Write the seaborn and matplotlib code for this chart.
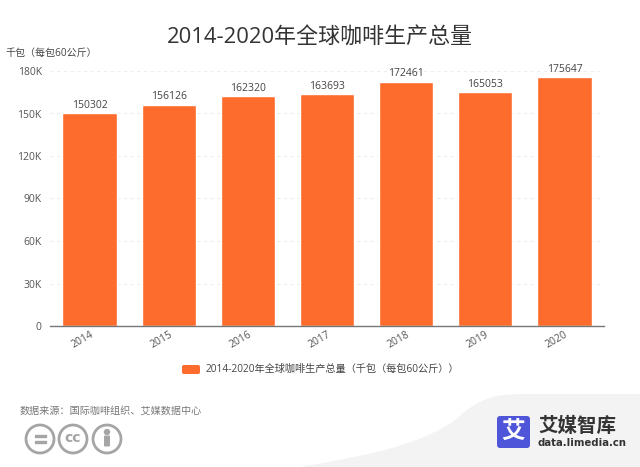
import matplotlib
matplotlib.use("Agg")
import matplotlib.pyplot as plt
import seaborn as sns
import pandas as pd
from matplotlib.patches import Circle, FancyBboxPatch, PathPatch, Rectangle
from matplotlib.path import Path

YEARS = ["2014", "2015", "2016", "2017", "2018", "2019", "2020"]
VALUES = [150302, 156126, 162320, 163693, 172461, 165053, 175647]
Y_TICKS = [0, 30000, 60000, 90000, 120000, 150000, 180000]
Y_LABELS = ["0", "30K", "60K", "90K", "120K", "150K", "180K"]
TITLE = "2014-2020年全球咖啡生产总量"
UNIT = "千包（每包60公斤）"
LEGEND = "2014-2020年全球咖啡生产总量（千包（每包60公斤））"
SOURCE = "数据来源：国际咖啡组织、艾媒数据中心"

ORANGE = "#fd6c2d"
W, H = 640, 467

sns.set_theme(style="white")
plt.rcParams["font.family"] = ["Open Sans", "Noto Sans CJK SC", "DejaVu Sans"]

df = pd.DataFrame({"year": YEARS, "value": VALUES})

fig = plt.figure(figsize=(W / 100, H / 100), dpi=100, facecolor="white")

# --- background layer in pixel coordinates ---
bg = fig.add_axes([0, 0, 1, 1], zorder=0)
bg.set_xlim(0, W)
bg.set_ylim(H, 0)
bg.axis("off")

swoosh = Path(
    [(300, 467), (370, 455), (420, 445), (455, 420), (475, 402), (490, 394), (520, 394), (640, 394), (640, 467), (300, 467)],
    [Path.MOVETO, Path.CURVE4, Path.CURVE4, Path.CURVE4, Path.CURVE4, Path.CURVE4, Path.CURVE4, Path.LINETO, Path.LINETO, Path.CLOSEPOLY],
)
bg.add_patch(PathPatch(swoosh, facecolor="#f3f3f4", edgecolor="none"))

# --- chart ---
ax = fig.add_axes([50 / W, 1 - 326 / H, 554 / W, 255 / H], zorder=1)
ax.patch.set_alpha(0)
sns.barplot(data=df, x="year", y="value", color=ORANGE, saturation=1, width=0.685, ax=ax)
ax.set_ylim(0, 180000)
ax.set_xlim(-0.5, 6.5)
ax.set_yticks(Y_TICKS)
ax.set_yticklabels(Y_LABELS, fontsize=7.5, color="#555555")
ax.set_xlabel("")
ax.set_ylabel("")
ax.tick_params(axis="x", length=0, pad=2, labelsize=7.5, labelcolor="#555555")
ax.tick_params(axis="y", length=0, pad=6)
for lab in ax.get_xticklabels():
    lab.set_rotation(30)
    lab.set_ha("right")
    lab.set_rotation_mode("anchor")
ax.yaxis.grid(True, color="#eeeeee", linestyle=(0, (3, 3)), linewidth=0.8)
ax.set_axisbelow(True)
for side in ["top", "right", "left"]:
    ax.spines[side].set_visible(False)
ax.spines["bottom"].set_color("#777777")
ax.spines["bottom"].set_linewidth(1)

for bar, v in zip(ax.patches, VALUES):
    ax.annotate(str(v), (bar.get_x() + bar.get_width() / 2, v), xytext=(0, 1.8),
                textcoords="offset points", ha="center", va="bottom",
                fontsize=7.5, color="#444444")

# --- texts, legend and logo in pixel coordinates ---
top = fig.add_axes([0, 0, 1, 1], zorder=2)
top.set_xlim(0, W)
top.set_ylim(H, 0)
top.axis("off")

top.text(320, 38, TITLE, ha="center", va="center", fontsize=15.8, color="#333333")
top.text(5, 53, UNIT, ha="left", va="center", fontsize=7.2, color="#444444")

top.add_patch(FancyBboxPatch((182, 365), 18, 9, boxstyle="round,pad=0,rounding_size=2",
                             facecolor=ORANGE, edgecolor="none"))
top.text(206, 369, LEGEND, ha="left", va="center", fontsize=7.33, color="#444444")
top.text(20, 411, SOURCE, ha="left", va="center", fontsize=7.25, color="#777777")

# licence badges
GREY = "#a5a5a5"
for cx in [40, 73, 107]:
    top.add_patch(Circle((cx, 439), 14, facecolor="white", edgecolor=GREY, linewidth=2))
top.add_patch(Rectangle((34.5, 435), 11, 2, color=GREY))
top.add_patch(Rectangle((34.5, 441), 11, 2, color=GREY))
top.text(73, 438.5, "cc", ha="center", va="center", fontsize=10, color=GREY,
         family="DejaVu Sans", fontweight="bold")
top.add_patch(Circle((107, 432), 2.5, color=GREY))
top.add_patch(FancyBboxPatch((104, 435.5), 6, 11, boxstyle="round,pad=0,rounding_size=1",
                             facecolor=GREY, edgecolor="none"))

# logo
top.add_patch(FancyBboxPatch((497, 416), 33, 32, boxstyle="round,pad=0,rounding_size=3",
                             facecolor="#4f55d8", edgecolor="none"))
top.text(513.5, 431, "艾", ha="center", va="center", fontsize=17, color="white", fontweight="bold",
         family="Noto Sans CJK SC")
top.text(538, 426, "艾媒智库", ha="left", va="center", fontsize=14, color="#333333", fontweight="bold",
         family="Noto Sans CJK SC")
top.text(538, 443, "data.limedia.cn", ha="left", va="center", fontsize=7.3, color="#333333",
         family="DejaVu Sans", fontweight="bold")

fig.savefig("out.png", dpi=100)
